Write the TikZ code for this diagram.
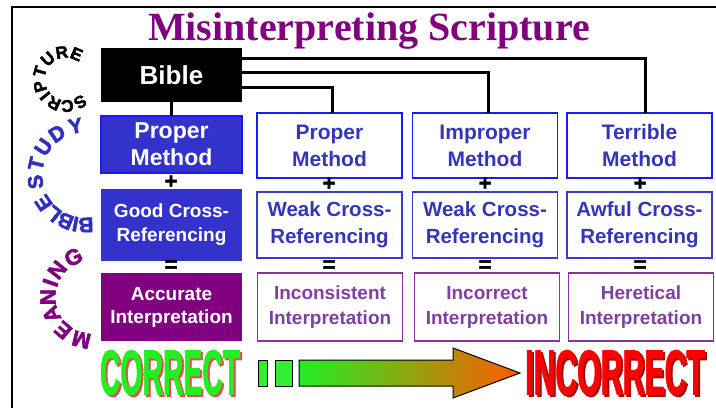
\documentclass[tikz,border=0pt]{standalone}
\usepackage{fontspec}
\setmainfont{Liberation Sans}
\newfontfamily\serifb{Liberation Serif}
\newfontfamily\heavy[UprightFont={* Bold}, FakeBold=2]{Liberation Sans}
\newfontfamily\heavyarc[UprightFont={* Bold}, FakeBold=2.5]{Liberation Sans}
\usepackage{graphicx}
\usetikzlibrary{calc}
\definecolor{ttlpurple}{HTML}{800080}
\definecolor{bfill}{HTML}{3333CC}
\definecolor{bborder}{HTML}{1A1AFF}
\definecolor{btext}{HTML}{3535BB}
\definecolor{bborder2}{HTML}{3C3CCC}
\definecolor{pborder}{HTML}{8833A0}
\definecolor{ptext}{HTML}{8040A0}
\definecolor{cgreen}{HTML}{22EE22}
\definecolor{sqgreen}{HTML}{33EE33}
\definecolor{aorange}{HTML}{FF5A00}
\definecolor{amid}{HTML}{B8CC00}
\definecolor{cshadow}{HTML}{E05050}
\definecolor{ishadow}{HTML}{A01010}
\definecolor{studyblue}{HTML}{3030C0}
\newcommand\arcS[1]{{\heavyarc\fontsize{17}{17}\selectfont #1}}
\newcommand\arcB[1]{{\heavyarc\fontsize{21}{21}\selectfont #1}}
\newcommand\arcM[1]{{\heavyarc\fontsize{22}{22}\selectfont #1}}
\begin{document}
\begin{tikzpicture}[x=1pt,y=-1pt,
  every node/.style={inner sep=0pt, outer sep=0pt},
  conn/.style={line width=3pt, black},
  colA/.style={minimum width=141pt, align=center, text=white},
  colB/.style={minimum width=145pt, align=center, fill=white},
  methodbox/.style={colB, minimum height=65pt, draw=bborder, line width=1.8pt, text=btext},
  crossbox/.style={colB, minimum height=66pt, draw=bborder2, line width=1.8pt, text=btext},
  interpbox/.style={colB, minimum height=68pt, draw=pborder, line width=1.8pt, text=ptext},
  opsign/.style={font=\heavy\fontsize{22}{22}\selectfont},
  fM/.style={font=\bfseries\fontsize{21}{27}\selectfont},
  fC/.style={font=\bfseries\fontsize{20.5}{27}\selectfont},
  fI/.style={font=\bfseries\fontsize{19}{25}\selectfont}
]
\path[use as bounding box, fill=white] (0,0) rectangle (716,408);
\draw[line width=1.5pt] (12,408) -- (12,7) -- (716,7);

% title
\node[anchor=base, font=\serifb\bfseries\fontsize{40}{40}\selectfont, text=ttlpurple] (title) at (369,40) {Misinterpreting Scripture};

% column 1
\node[colA, fill=black, minimum height=54pt, font=\bfseries\fontsize{26}{28}\selectfont] (bible) at (171.5,75) {Bible};
\node[colA, fill=bfill, draw=bborder, line width=1.5pt, minimum height=57pt, font=\bfseries\fontsize{23}{27}\selectfont] (m1) at (171.5,144.5) {Proper\\Method};
\node[colA, fill=bfill, minimum height=72pt, font=\bfseries\fontsize{19}{24}\selectfont] (c1) at (171.5,225) {Good Cross-\\Referencing};
\node[colA, fill=ttlpurple, minimum height=68pt, font=\bfseries\fontsize{19}{23}\selectfont] (i1) at (171.5,307) {Accurate\\Interpretation};

% columns 2-4
\node[methodbox, fM] (m2) at (329.5,145.5) {Proper\\Method};
\node[methodbox, fM] (m3) at (485,145.5) {Improper\\Method};
\node[methodbox, fM] (m4) at (639.5,145.5) {Terrible\\Method};

\node[crossbox, fC] (c2) at (329.5,225) {Weak Cross-\\Referencing};
\node[crossbox, fC] (c3) at (485,225) {Weak Cross-\\Referencing};
\node[crossbox, fC] (c4) at (639.5,225) {Awful Cross-\\Referencing};

\node[interpbox, fI] (i2) at (330,307) {Inconsistent\\Interpretation};
\node[interpbox, fI] (i3) at (487,307) {Incorrect\\Interpretation};
\node[interpbox, fI] (i4) at (641,307) {Heretical\\Interpretation};

% plus and equals
\node[opsign] (p1) at (171,182) {+};
\node[opsign] (p2) at (329,184) {+};
\node[opsign] (p3) at (485,184) {+};
\node[opsign] (p4) at (640,184) {+};
\node[opsign] (e1) at (171,266) {=};
\node[opsign] (e2) at (329,266) {=};
\node[opsign] (e3) at (485,266) {=};
\node[opsign] (e4) at (640,266) {=};

% connectors
\draw[conn] (bible.south) -- (m1.north);
\draw[conn] ([yshift=-10pt]bible.north east) -| ([xshift=6pt]m4.north);
\draw[conn] ([yshift=-24pt]bible.north east) -| ([xshift=3pt]m3.north);
\draw[conn] ([yshift=-39pt]bible.north east) -| ([xshift=3pt]m2.north);

% curved labels (letters placed around arcs, tops outward)
\foreach \ch/\a [count=\i] in {S/58, C/87, R/116, I/141, P/164, T/196, U/228, R/261, E/293}
  \node[text=black, rotate=-\a-90, name=scr\i] at ([shift={(\a:27)}]66,79) {\arcS{\ch}};
\foreach \ch/\a [count=\i] in {B/89, I/101, B/113, L/129, E/146, S/172, T/193, U/214, D/236, Y/259}
  \node[text=studyblue, rotate=-\a-90, name=bst\i] at ([shift={(\a:50)}]85,175) {\arcB{\ch}};
\foreach \ch/\a [count=\i] in {M/104, E/131, A/157, N/180, I/199, N/218, G/245}
  \node[text=ttlpurple, rotate=-\a-90, name=mea\i] at ([shift={(\a:44)}]92,297) {\arcM{\ch}};

% bottom row
\node[text=cshadow] (cors) at (172,374.5) {\scalebox{0.45}[1]{\heavy\fontsize{63}{63}\selectfont CORRECT}};
\node[text=cgreen] (cor) at (170,372.5) {\scalebox{0.45}[1]{\heavy\fontsize{63}{63}\selectfont CORRECT}};
\node[text=ishadow] (incs) at (617,374.5) {\scalebox{0.48}[1]{\heavy\fontsize{63}{63}\selectfont INCORRECT}};
\node[text=red] (inc) at (615,372.5) {\scalebox{0.48}[1]{\heavy\fontsize{63}{63}\selectfont INCORRECT}};

\filldraw[fill=sqgreen, draw=black, line width=1pt] (258,360) rectangle (267,386);
\filldraw[fill=sqgreen, draw=black, line width=1pt] (275,360) rectangle (292,386);
\shadedraw[left color=cgreen, middle color=amid, right color=aorange, draw=black, line width=1pt]
  (299,360) -- (453,360) -- (453,348) -- (520,373) -- (453,398) -- (453,386) -- (299,386) -- cycle;
\end{tikzpicture}
\end{document}
